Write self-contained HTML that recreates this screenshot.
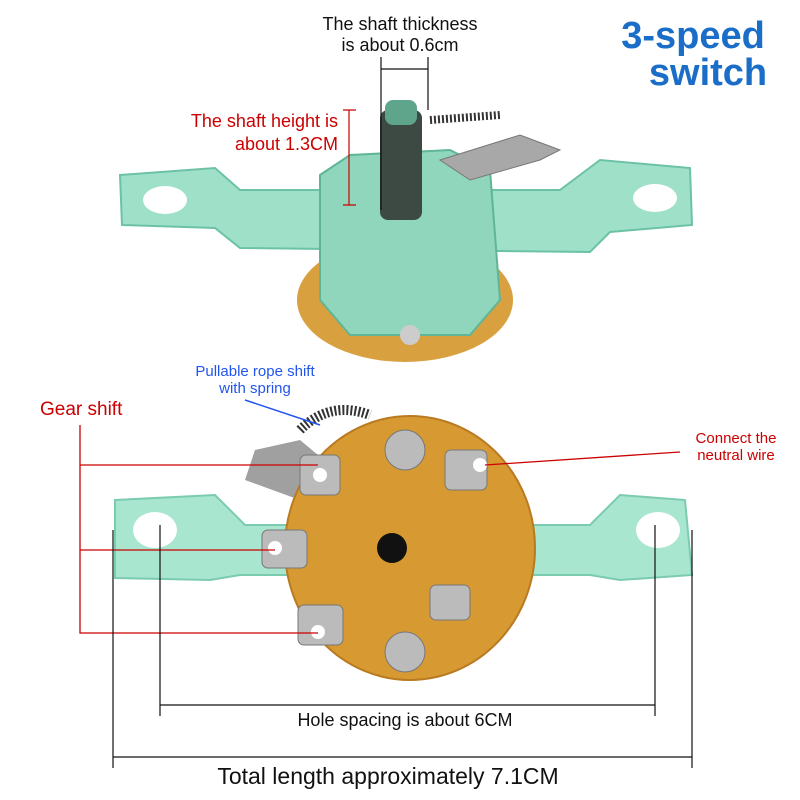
<!DOCTYPE html>
<html><head><meta charset="utf-8"><style>
body{margin:0;background:#fff;}
svg{display:block;font-family:"Liberation Sans",sans-serif;}
</style></head><body>
<svg width="800" height="800" viewBox="0 0 800 800" xmlns="http://www.w3.org/2000/svg">
<rect width="800" height="800" fill="#fff"/>
<!-- Top component -->
<ellipse cx="405" cy="300" rx="108" ry="62" fill="#d9a040"/>
<path d="M120 175 L215 168 L240 190 L560 190 L600 160 L690 168 L692 225 L610 232 L590 252 L240 248 L215 228 L122 225 Z" fill="#9fe0c8" stroke="#6cc2a6" stroke-width="2"/>
<ellipse cx="165" cy="200" rx="22" ry="14" fill="#fff"/>
<ellipse cx="655" cy="198" rx="22" ry="14" fill="#fff"/>
<path d="M320 175 L350 155 L450 150 L490 170 L500 300 L470 335 L350 335 L320 300 Z" fill="#8fd6bd" stroke="#5fb596" stroke-width="2"/>
<rect x="380" y="110" width="42" height="110" rx="8" fill="#3d4a44"/>
<rect x="385" y="100" width="32" height="25" rx="8" fill="#5fa58b"/>
<path d="M430 120 L500 115" stroke="#333" stroke-width="8" stroke-dasharray="2 2"/>
<path d="M440 160 L520 135 L560 150 L540 160 L470 180 Z" fill="#a8a8a8" stroke="#777"/>
<circle cx="410" cy="335" r="10" fill="#ccc"/>
<!-- Bottom component -->
<path d="M115 500 L215 495 L245 525 L590 525 L620 495 L685 500 L692 575 L620 580 L590 575 L240 575 L210 580 L115 578 Z" fill="#a8e6d0" stroke="#7acbb0" stroke-width="2"/>
<ellipse cx="155" cy="530" rx="22" ry="18" fill="#fff"/>
<ellipse cx="658" cy="530" rx="22" ry="18" fill="#fff"/>
<path d="M255 450 L300 440 L330 465 L300 500 L245 480 Z" fill="#a0a0a0"/>
<path d="M300 430 Q330 400 370 415" stroke="#333" stroke-width="10" stroke-dasharray="2 2" fill="none"/>
<ellipse cx="410" cy="548" rx="125" ry="132" fill="#d79a32" stroke="#b97a20" stroke-width="2"/>
<circle cx="405" cy="450" r="20" fill="#bbb" stroke="#777"/>
<circle cx="405" cy="652" r="20" fill="#bbb" stroke="#777"/>
<circle cx="392" cy="548" r="15" fill="#111"/>
<rect x="300" y="455" width="40" height="40" rx="6" fill="#bbb" stroke="#777"/>
<rect x="445" y="450" width="42" height="40" rx="6" fill="#bbb" stroke="#777"/>
<rect x="262" y="530" width="45" height="38" rx="6" fill="#bbb" stroke="#777"/>
<rect x="298" y="605" width="45" height="40" rx="6" fill="#bbb" stroke="#777"/>
<rect x="430" y="585" width="40" height="35" rx="6" fill="#bbb" stroke="#777"/>
<circle cx="320" cy="475" r="7" fill="#fff"/>
<circle cx="480" cy="465" r="7" fill="#fff"/>
<circle cx="275" cy="548" r="7" fill="#fff"/>
<circle cx="318" cy="632" r="7" fill="#fff"/>
<!-- Title -->
<text x="693" y="48" font-size="38" font-weight="bold" fill="#1a6ec8" text-anchor="middle">3-speed</text>
<text x="708" y="85" font-size="38" font-weight="bold" fill="#1a6ec8" text-anchor="middle">switch</text>
<!-- shaft thickness -->
<text x="400" y="30" font-size="18" fill="#111" text-anchor="middle">The shaft thickness</text>
<text x="400" y="51" font-size="18" fill="#111" text-anchor="middle">is about 0.6cm</text>
<path d="M381 57 V210 M428 57 V110 M381 69 H428" stroke="#111" stroke-width="1.2" fill="none"/>
<text x="338" y="127" font-size="18" fill="#c00" text-anchor="end">The shaft height is</text>
<text x="338" y="150" font-size="18" fill="#c00" text-anchor="end">about 1.3CM</text>
<path d="M349 110 V205 M343 110 H356 M343 205 H356" stroke="#c00" stroke-width="1.2" fill="none"/>
<!-- rope -->
<text x="255" y="376" font-size="15" fill="#2255ee" text-anchor="middle">Pullable rope shift</text>
<text x="255" y="393" font-size="15" fill="#2255ee" text-anchor="middle">with spring</text>
<path d="M245 400 L320 425" stroke="#2255ee" stroke-width="1.5"/>
<!-- gear shift -->
<text x="40" y="415" font-size="19" fill="#c00">Gear shift</text>
<path d="M80 425 V633 H318 M80 465 H318 M80 550 H275" stroke="#c00" stroke-width="1.3" fill="none"/>
<text x="736" y="443" font-size="15" fill="#c00" text-anchor="middle">Connect the</text>
<text x="736" y="460" font-size="15" fill="#c00" text-anchor="middle">neutral wire</text>
<path d="M680 452 L485 465" stroke="#c00" stroke-width="1.3"/>
<!-- dims -->
<path d="M160 525 V716 M655 525 V716 M160 705 H655" stroke="#111" stroke-width="1.2" fill="none"/>
<text x="405" y="726" font-size="18" fill="#111" text-anchor="middle">Hole spacing is about 6CM</text>
<path d="M113 530 V768 M692 530 V768 M113 757 H692" stroke="#111" stroke-width="1.2" fill="none"/>
<text x="388" y="784" font-size="23" fill="#111" text-anchor="middle">Total length approximately 7.1CM</text>
</svg>
</body></html>
